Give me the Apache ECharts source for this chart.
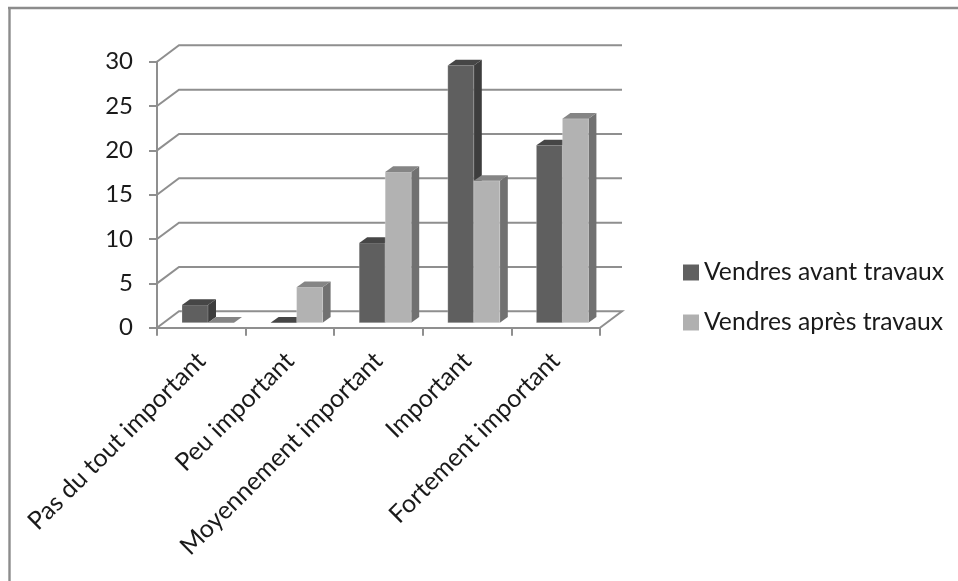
<!DOCTYPE html>
<html><head><meta charset="utf-8">
<style>html,body{margin:0;padding:0;background:#fff}#c{width:958px;height:581px}</style>
<script src="https://cdn.jsdelivr.net/npm/echarts@6/dist/echarts.min.js"></script>
</head><body><div id="c"></div>
<script>
const categories = ['Pas du tout important','Peu important','Moyennement important','Important','Fortement important'];
const avant = [2,0,9,29,20];
const apres = [0,4,17,16,23];
const yTicks = [0,5,10,15,20,25,30];
const names = ['Vendres avant travaux','Vendres après travaux'];
const FONT = 'Lato';
const WALL_DX = 22, WALL_DY = -16.4;
const BAR_DX = 6.7, BAR_DY = -5, DEPTH_X = 8, DEPTH_Y = -5.7, BAR_FRAC = 0.2935;
const LINE = '#8f8f8f';

function wall(params, api){
  const y = api.coord([0, api.value(0)])[1];
  const cs = params.coordSys;
  const x0 = cs.x, x1 = cs.x + cs.width;
  const v = api.value(0);
  const pts = v === 0
    ? [[x0,y],[x0+WALL_DX,y+WALL_DY],[x1+WALL_DX,y+WALL_DY],[x1,y]]
    : [[x0,y],[x0+WALL_DX,y+WALL_DY],[x1+WALL_DX,y+WALL_DY]];
  return {type:'polyline',shape:{points:pts},style:{stroke:LINE,lineWidth:2,fill:null},silent:true};
}
function barMaker(side, front, sideCol, topCol){
  return function(params, api){
    const i = api.value(0), v = api.value(1);
    const c = api.coord([i, v]), b = api.coord([i, 0]);
    const w = api.size([1,0])[0] * BAR_FRAC;
    const xl = c[0] + BAR_DX + (side === 0 ? -w : 0), xr = xl + w;
    const yt = c[1] + BAR_DY, yb = b[1] + BAR_DY;
    const kids = [];
    if (v > 0) {
      kids.push({type:'polygon',shape:{points:[[xr,yb],[xr+DEPTH_X,yb+DEPTH_Y],[xr+DEPTH_X,yt+DEPTH_Y],[xr,yt]]},style:{fill:sideCol}});
      kids.push({type:'rect',shape:{x:xl,y:yt,width:w,height:yb-yt},style:{fill:front,stroke:'rgba(255,255,255,0.22)',lineWidth:1}});
    }
    kids.push({type:'polygon',shape:{points:[[xl,yt],[xr,yt],[xr+DEPTH_X,yt+DEPTH_Y],[xl+DEPTH_X,yt+DEPTH_Y]]},style:{fill:topCol}});
    return {type:'group',children:kids};
  };
}
const chart = echarts.init(document.getElementById('c'), null, {renderer:'canvas'});
chart.setOption({
  animation:false,
  backgroundColor:'#fff',
  textStyle:{fontFamily:FONT},
  graphic:[
    {type:'line',shape:{x1:8,y1:8,x2:958,y2:8},style:{stroke:'#8c8c8c',lineWidth:2.4},silent:true},
    {type:'line',shape:{x1:9.5,y1:7,x2:9.5,y2:581},style:{stroke:'#8c8c8c',lineWidth:2.4},silent:true}
  ],
  grid:{left:157,right:358,top:61.7,bottom:253.3,containLabel:false},
  legend:{
    orient:'vertical',left:678,top:255,itemWidth:16,itemHeight:16,itemGap:25,icon:'rect',
    data:names,
    textStyle:{fontFamily:FONT,fontSize:24.7,color:'#1a1a1a',padding:[0,0,0,0]}
  },
  xAxis:{type:'category',data:categories,
    axisLine:{lineStyle:{color:LINE,width:2}},
    axisTick:{show:true,alignWithLabel:false,length:8,lineStyle:{color:LINE,width:2}},
    axisLabel:{rotate:45,interval:0,margin:29,fontFamily:FONT,fontSize:25,color:'#1a1a1a'},
    splitLine:{show:false}},
  yAxis:{type:'value',min:0,max:30,interval:5,
    axisLine:{show:true,lineStyle:{color:LINE,width:2}},
    axisTick:{show:true,length:8,lineStyle:{color:LINE,width:2}},
    axisLabel:{margin:24,fontFamily:FONT,fontSize:24,color:'#1a1a1a'},
    splitLine:{show:false}},
  series:[
    {type:'custom',name:'walls',silent:true,data:yTicks.map(v=>[v]),renderItem:wall,z:1,encode:{y:0}},
    {type:'custom',name:names[0],itemStyle:{color:'#606060'},data:avant.map((v,i)=>[i,v]),encode:{x:0,y:1},renderItem:barMaker(0,'#5f5f5f','#3d3d3d','#464646'),z:2},
    {type:'custom',name:names[1],itemStyle:{color:'#b0b0b0'},data:apres.map((v,i)=>[i,v]),encode:{x:0,y:1},renderItem:barMaker(1,'#b2b2b2','#717171','#858585'),z:3}
  ]
});
</script></body></html>
